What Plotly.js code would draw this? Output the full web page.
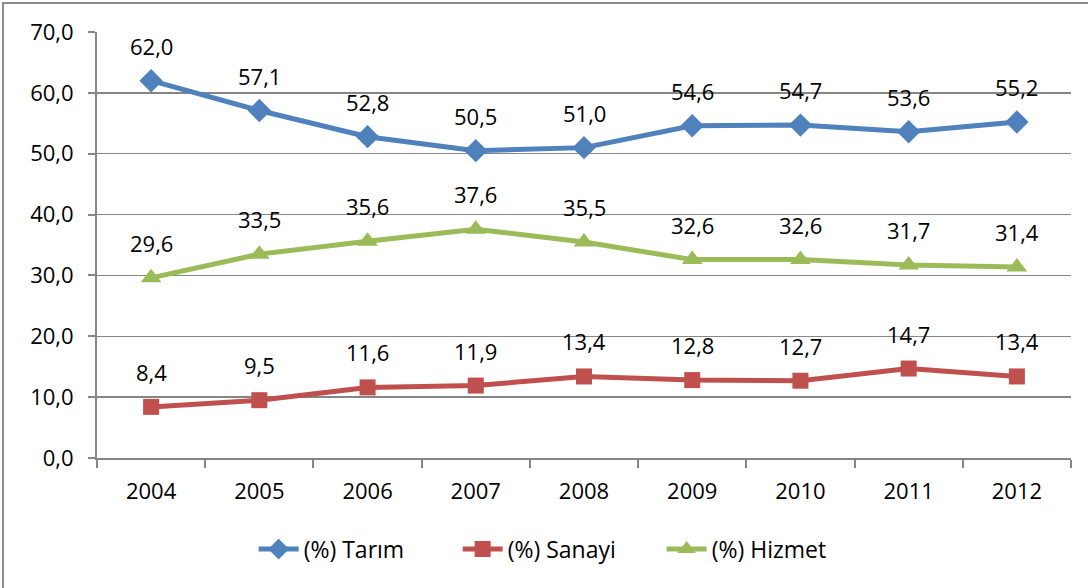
<!DOCTYPE html>
<html><head><meta charset="utf-8">
<script src="https://cdn.plot.ly/plotly-3.0.1.min.js"></script>
<style>
html,body{margin:0;padding:0;background:#fff;}
#chart{position:absolute;left:0;top:0;width:1088px;height:588px;}
#frame{position:absolute;left:2px;top:2px;width:1200px;height:700px;border-top:2px solid #8c8c8c;border-left:2px solid #8c8c8c;pointer-events:none;}
</style></head>
<body>
<div id="chart"></div>
<div id="frame"></div>
<script>
const years = ["2004","2005","2006","2007","2008","2009","2010","2011","2012"];
const tarim  = [62.0, 57.1, 52.8, 50.5, 51.0, 54.6, 54.7, 53.6, 55.2];
const sanayi = [8.4, 9.5, 11.6, 11.9, 13.4, 12.8, 12.7, 14.7, 13.4];
const hizmet = [29.6, 33.5, 35.6, 37.6, 35.5, 32.6, 32.6, 31.7, 31.4];
const names = ["(%) Tarım", "(%) Sanayi", "(%) Hizmet"];
const colors = ["#4F81BD", "#C0504D", "#9BBB59"];
const symbols = ["diamond", "square", "triangle-up"];
const series = [tarim, sanayi, hizmet];

const FONT = "Open Sans, Noto Sans, sans-serif";
const FS = 22;
const traces = series.map((vals, i) => ({
  type: "scatter", mode: "lines+markers", x: years, y: vals, name: names[i],
  line: {color: colors[i], width: 5},
  marker: {symbol: symbols[i], color: colors[i], size: i === 1 ? 16 : 18, line: {width: 0}}
}));

const annotations = [];
series.forEach(vals => vals.forEach((v, j) => annotations.push({
  x: j, y: v, xref: "x", yref: "y",
  text: v.toFixed(1).replace(".", ","), showarrow: false,
  yshift: 35, yanchor: "middle", font: {family: FONT, size: FS, color: "#000"}
})));

const layout = {
  width: 1088, height: 588,
  margin: {l: 97, r: 17, t: 32, b: 130},
  paper_bgcolor: "#fff", plot_bgcolor: "#fff",
  separators: ",.",
  font: {family: FONT, size: FS, color: "#000"},
  showlegend: true,
  legend: {orientation: "h", x: 0.475, xanchor: "center", y: -0.214, yanchor: "middle",
           font: {family: FONT, size: 23, color: "#000"}, entrywidth: 149, entrywidthmode: "pixels",
           itemwidth: 40, tracegroupgap: 0},
  xaxis: {type: "category", range: [-0.5, 8.5], autorange: false, showgrid: false, showline: true,
          linecolor: "#868686", linewidth: 2,
          ticks: "outside", tickson: "boundaries", ticklen: 8, tickcolor: "#868686", tickwidth: 2,
          ticklabelstandoff: 13, tickangle: 0, tickfont: {family: FONT, size: FS, color: "#000"}, zeroline: false},
  yaxis: {range: [0, 70], autorange: false, dtick: 10, tickformat: ".1f", showgrid: true, gridcolor: "#868686", gridwidth: 1.5,
          showline: true, linecolor: "#868686", linewidth: 2, ticks: "outside", ticklen: 7,
          tickcolor: "#868686", tickwidth: 2, ticklabelstandoff: 10, zeroline: false,
          tickfont: {family: FONT, size: FS, color: "#000"}},
  annotations: annotations
};
Plotly.newPlot("chart", traces, layout, {displayModeBar: false, staticPlot: true});
</script>
</body></html>
